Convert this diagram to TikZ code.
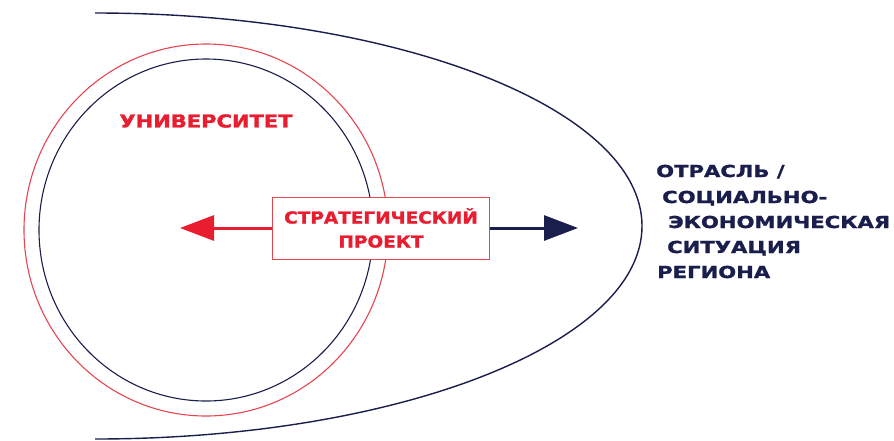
\documentclass[tikz,border=0pt]{standalone}
\usepackage{fontspec}
\usetikzlibrary{arrows.meta}
\newfontfamily\uniFont{DejaVu Sans}[UprightFont=* Bold, FakeStretch=1.18, FakeBold=1.6]
\newfontfamily\boxFont{DejaVu Sans}[UprightFont=* Bold, FakeStretch=1.12, FakeBold=1.6]
\newfontfamily\regFont{DejaVu Sans}[UprightFont=* Bold, FakeStretch=1.28, FakeBold=1.6]
\definecolor{uniRed}{RGB}{232,30,48}
\definecolor{lineRed}{RGB}{228,70,80}
\definecolor{navy}{RGB}{26,30,76}

\begin{document}
\begin{tikzpicture}[x=1pt, y=-1pt,
	arr/.style={-{Triangle[length=34pt, width=25pt]}, line width=3pt},
	reg/.style={navy, anchor=base west, inner sep=0pt, font=\regFont\fontsize{16.5}{20}\selectfont}]
	\path[use as bounding box] (0,0) rectangle (894,440);
	
	% outer region
	\draw[navy, line width=1.4pt] (95,13) arc[start angle=-90, end angle=90, x radius=547, y radius=213];
	
	% university
	\draw[lineRed, line width=1.1pt] (206,230) ellipse [x radius=182, y radius=186];
	\draw[navy, line width=1.1pt] (206,230) ellipse [x radius=167, y radius=171];
	\node[uniRed, font=\uniFont\fontsize{17.8}{20}\selectfont] (uni) at (206,121) {УНИВЕРСИТЕТ};
	
	% project
	\node[draw=lineRed, line width=0.8pt, fill=white, minimum width=217pt, minimum height=62pt,
		align=center, text=uniRed, font=\boxFont\fontsize{16.5}{24}\selectfont] (proj) at (381,228)
		{СТРАТЕГИЧЕСКИЙ\\ПРОЕКТ};
	\coordinate (L) at (180,228);
	\coordinate (R) at (578,228);
	\draw[uniRed, arr] (proj) -- (L);
	\draw[navy, arr] (proj) -- (R);
	
	% region
	\node[reg] (r1) at (656,177) {ОТРАСЛЬ /};
	\node[reg] (r2) at (662,203) {СОЦИАЛЬНО-};
	\node[reg] (r3) at (668,228) {ЭКОНОМИЧЕСКАЯ};
	\node[reg] (r4) at (667,253) {СИТУАЦИЯ};
	\node[reg] (r5) at (657,278) {РЕГИОНА};
\end{tikzpicture}
\end{document}
